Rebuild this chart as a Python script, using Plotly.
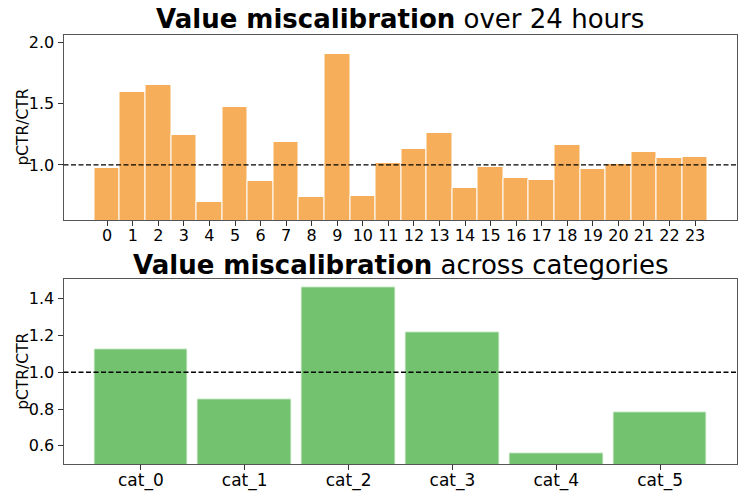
import plotly.graph_objects as go

hours = list(range(24))
hour_values = [0.978, 1.591, 1.650, 1.241, 0.699, 1.472, 0.870, 1.187, 0.742, 1.900,
               0.751, 1.016, 1.127, 1.260, 0.810, 0.984, 0.897, 0.878, 1.160, 0.965,
               1.008, 1.103, 1.054, 1.065]
categories = ["cat_0", "cat_1", "cat_2", "cat_3", "cat_4", "cat_5"]
cat_values = [1.127, 0.851, 1.462, 1.219, 0.560, 0.780]
reference_level = 1.0

W, H = 747, 498
FONT = "DejaVu Sans"
ORANGE = "#F6AE5A"
GREEN = "#73C26F"
FRAME = "#555555"

fig = go.Figure()
fig.add_trace(go.Bar(x=hours, y=hour_values, width=1.0, marker=dict(color=ORANGE, line=dict(color="white", width=1)),
                     xaxis="x", yaxis="y", showlegend=False))
fig.add_trace(go.Bar(x=list(range(len(categories))), y=cat_values, width=0.9,
                     marker=dict(color=GREEN, line=dict(color="#E8F5E6", width=1)),
                     xaxis="x2", yaxis="y2", showlegend=False))

def px_x(p):
    return p / W

def px_y(p):
    return 1 - p / H

def axis_common(size):
    return dict(showline=True, mirror=True, linecolor=FRAME, linewidth=1, ticks="outside", ticklen=5,
                tickcolor="#333333", showgrid=False, zeroline=False, automargin=False,
                tickfont=dict(family=FONT, size=size, color="black"))

fig.update_layout(
    width=W, height=H, margin=dict(l=0, r=0, t=0, b=0),
    paper_bgcolor="white", plot_bgcolor="white", bargap=0,
    font=dict(family=FONT, color="black"),
    xaxis=dict(domain=[px_x(63.5), px_x(737)], range=[-1.71, 24.64], tickvals=hours,
               ticktext=[str(h) for h in hours], anchor="y", ticklabelstandoff=-5, **axis_common(16)),
    yaxis=dict(domain=[px_y(220.3), px_y(35)], range=[0.55, 2.057], tickvals=[1.0, 1.5, 2.0],
               ticktext=["1.0", "1.5", "2.0"], anchor="x", **axis_common(16)),
    xaxis2=dict(domain=[px_x(63.5), px_x(737)], range=[-0.745, 5.74], tickvals=list(range(len(categories))),
                ticktext=categories, anchor="y2", ticklabelstandoff=-5, **axis_common(17)),
    yaxis2=dict(domain=[px_y(464.3), px_y(279.3)], range=[0.5, 1.505], tickvals=[0.6, 0.8, 1.0, 1.2, 1.4],
                ticktext=["0.6", "0.8", "1.0", "1.2", "1.4"], anchor="x2", **axis_common(16)),
)

for yref in ["y", "y2"]:
    xref = "x domain" if yref == "y" else "x2 domain"
    fig.add_shape(type="line", xref=xref, yref=yref, x0=0, x1=1, y0=reference_level, y1=reference_level,
                  line=dict(color="black", width=1.3, dash="5px,2.5px"))

for ycenter in [127.6, 371.8]:
    fig.add_annotation(text="pCTR/CTR", xref="paper", yref="paper", x=px_x(23), y=px_y(ycenter),
                       showarrow=False, textangle=-90, xanchor="center", yanchor="middle",
                       font=dict(family=FONT, size=15.5, color="black"))

fig.add_annotation(text="<b>Value miscalibration</b> over 24 hours", xref="paper", yref="paper",
                   x=px_x(400), y=px_y(19), showarrow=False, xanchor="center", yanchor="middle",
                   font=dict(family=FONT, size=26, color="black"))
fig.add_annotation(text="<b>Value miscalibration</b> across categories", xref="paper", yref="paper",
                   x=px_x(400), y=px_y(265), showarrow=False, xanchor="center", yanchor="middle",
                   font=dict(family=FONT, size=26, color="black"))

fig.write_html("out.html", config={"displayModeBar": False},
               post_script="document.body.style.margin='0';document.body.style.overflow='hidden';")
